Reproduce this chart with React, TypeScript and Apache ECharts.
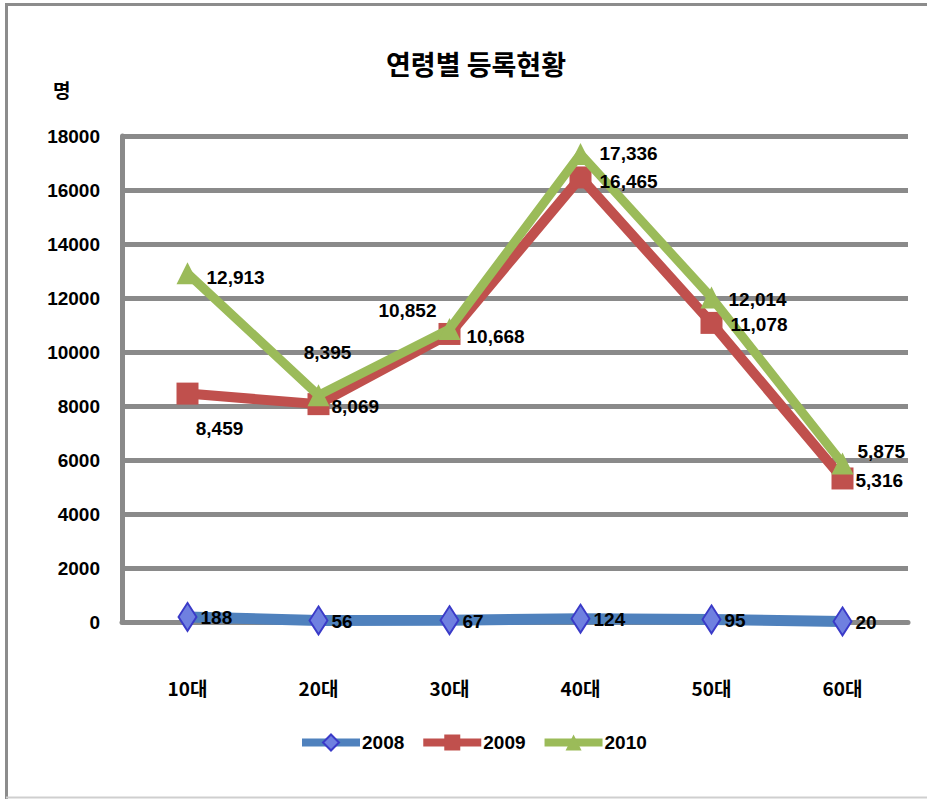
import React, { useEffect, useRef } from "react";
import * as echarts from "echarts";

const categories = ["10대", "20대", "30대", "40대", "50대", "60대"];
const yTicks = [0, 2000, 4000, 6000, 8000, 10000, 12000, 14000, 16000, 18000];
const s2008 = [188, 56, 67, 124, 95, 20];
const s2009 = [8459, 8069, 10668, 16465, 11078, 5316];
const s2010 = [12913, 8395, 10852, 17336, 12014, 5875];
const seriesNames = ["2008", "2009", "2010"];

const NUM_FONT = "'Liberation Sans', Arial, sans-serif";
const KR_FONT = "'Noto Sans CJK KR', 'Noto Sans', sans-serif";

type LabelCfg = { position: string; distance?: number; offset?: [number, number] };

const labels2008: LabelCfg[] = categories.map(() => ({ position: "right", distance: 4, offset: [0, 1] }));
const labels2009: LabelCfg[] = [
  { position: "bottom", distance: 14, offset: [32, 0] },
  { position: "right", distance: 2, offset: [0, 2] },
  { position: "right", distance: 6, offset: [0, 3] },
  { position: "right", distance: 8, offset: [0, 4] },
  { position: "right", distance: 8, offset: [0, 2] },
  { position: "right", distance: 2, offset: [0, 2] },
];
const labels2010: LabelCfg[] = [
  { position: "right", distance: 8, offset: [0, 4] },
  { position: "top", distance: 22, offset: [9, 0] },
  { position: "left", distance: 2, offset: [0, -18] },
  { position: "right", distance: 8, offset: [0, 0] },
  { position: "right", distance: 6, offset: [0, 2] },
  { position: "right", distance: 4, offset: [0, -12] },
];

function buildData(values: number[], cfgs: LabelCfg[]) {
  return values.map((v, i) => ({
    value: v,
    label: {
      position: cfgs[i].position,
      distance: cfgs[i].distance ?? 5,
      offset: cfgs[i].offset ?? [0, 0],
    },
  }));
}

const labelStyle = {
  show: true,
  color: "#000",
  fontFamily: NUM_FONT,
  fontWeight: "bold",
  fontSize: 19,
  formatter: (p: any) => Number(p.value).toLocaleString("en-US"),
};

const seriesDefs = [
  { name: seriesNames[0], values: s2008, labels: labels2008, symbol: "diamond", size: [18, 28], color: "#4F81BD", width: 11, item: { color: "#6f80e0", borderColor: "#3a3ac8", borderWidth: 2 } },
  { name: seriesNames[1], values: s2009, labels: labels2009, symbol: "rect", size: 22, color: "#C0504D", width: 10, item: { color: "#C0504D" } },
  { name: seriesNames[2], values: s2010, labels: labels2010, symbol: "triangle", size: 22, color: "#9BBB59", width: 9, item: { color: "#9BBB59" } },
];

export default function App() {
  const ref = useRef<HTMLDivElement>(null);
  useEffect(() => {
    if (!ref.current) return;
    const chart = echarts.init(ref.current, undefined, { renderer: "svg" });
    const lineSeries = seriesDefs.map((d, i) => ({
      name: d.name,
      type: "line",
      data: d.values,
      symbol: d.symbol,
      symbolSize: d.size,
      lineStyle: { color: d.color, width: d.width },
      itemStyle: d.item,
      label: { show: false },
      z: 3 + i,
    }));
    const labelSeries = seriesDefs.map((d) => ({
      name: d.name + " label",
      type: "line",
      data: buildData(d.values, d.labels),
      symbol: d.symbol,
      symbolSize: d.size,
      lineStyle: { width: 0, opacity: 0 },
      itemStyle: { color: "transparent", borderWidth: 0 },
      label: labelStyle,
      silent: true,
      z: 20,
    }));
    chart.setOption({
      animation: false,
      backgroundColor: "#fff",
      title: {
        text: "연령별 등록현황",
        left: 381,
        top: 45,
        textStyle: { fontFamily: KR_FONT, fontWeight: "bold", fontSize: 27, color: "#000" },
      },
      graphic: [
        {
          type: "polyline",
          shape: { points: [[6.5, 799], [6.5, 4.5], [927, 4.5]] },
          style: { stroke: "#8c8c8c", lineWidth: 3, fill: "none" },
          silent: true,
        },
        {
          type: "line",
          shape: { x1: 6, y1: 797.5, x2: 927, y2: 797.5 },
          style: { stroke: "#cfcfcf", lineWidth: 2 },
          silent: true,
        },
        {
          type: "text",
          left: 53,
          top: 80,
          style: { text: "명", fontFamily: KR_FONT, fontWeight: "bold", fontSize: 19, fill: "#000" },
        },
      ],
      legend: {
        data: seriesNames,
        left: 298,
        top: 733,
        itemWidth: 58,
        itemHeight: 20,
        itemGap: 15,
        padding: 0,
        lineStyle: { width: 8 },
        textStyle: { fontFamily: NUM_FONT, fontWeight: "bold", fontSize: 19, color: "#000", padding: [0, 0, 0, -3] },
      },
      grid: { left: 122, right: 19, top: 136, bottom: 177 },
      xAxis: {
        type: "category",
        data: categories,
        boundaryGap: true,
        axisLine: { show: true, lineStyle: { color: "#8a8a8a", width: 5 } },
        axisTick: { show: false },
        axisLabel: { margin: 56, fontFamily: KR_FONT, fontWeight: "bold", fontSize: 19, color: "#000" },
      },
      yAxis: {
        type: "value",
        min: yTicks[0],
        max: yTicks[yTicks.length - 1],
        interval: yTicks[1] - yTicks[0],
        axisLine: { show: true, lineStyle: { color: "#8a8a8a", width: 5 } },
        axisTick: { show: false },
        splitLine: { show: true, lineStyle: { color: "#8a8a8a", width: 5 } },
        axisLabel: {
          margin: 22,
          fontFamily: NUM_FONT,
          fontWeight: "bold",
          fontSize: 19,
          color: "#000",
          formatter: (v: number) => String(v),
        },
      },
      series: [...lineSeries, ...labelSeries],
    });
    return () => chart.dispose();
  }, []);
  return (
    <div
      ref={ref}
      style={{ position: "absolute", left: 0, top: 0, width: 927, height: 799 }}
    />
  );
}
